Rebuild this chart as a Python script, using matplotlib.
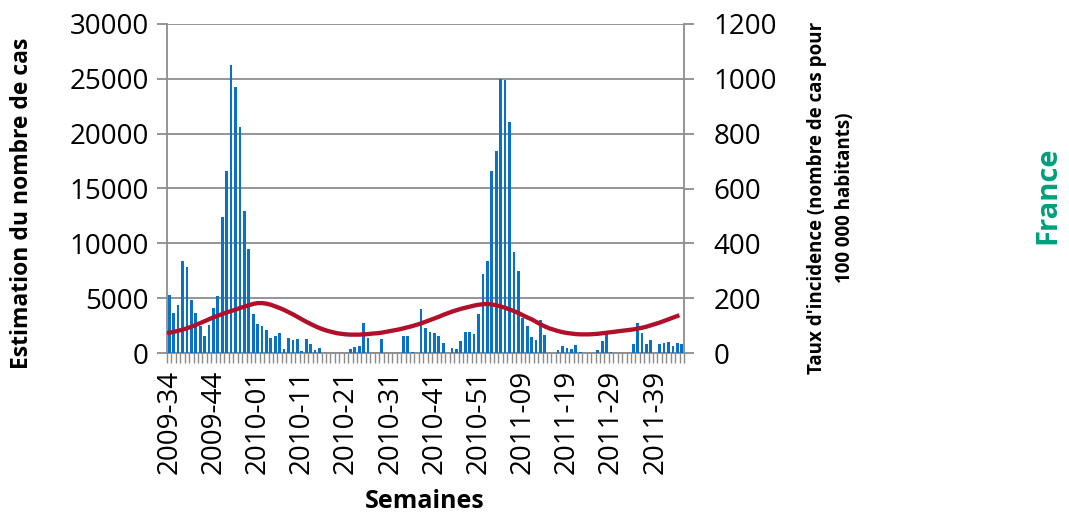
import matplotlib.pyplot as plt
import numpy as np

plt.rcParams['font.family'] = ['Open Sans', 'DejaVu Sans']

# weekly categories: 2009-34 .. 2011-45
week_spans = [(2009, 34, 53), (2010, 1, 52), (2011, 1, 45)]
semaines = [f"{y}-{w:02d}" for y, a, b in week_spans for w in range(a, b + 1)]

# estimated number of cases (left axis)
cas = [5250, 3610, 4400, 8380, 7830, 4860, 3610, 2430, 1520, 2520,
       4100, 5160, 12360, 16580, 26290, 24260, 20640, 12960, 9470, 3520,
       2680, 2440, 2130, 1330, 1570, 1780, 400, 1330, 1180, 1250,
       140, 1250, 780, 230, 470, 0, 0, 0, 0, 0,
       0, 370, 520, 650, 2720, 1380, 0, 0, 1300, 0,
       0, 0, 0, 1520, 1520, 100, 0, 4050, 2300, 1930,
       1840, 1520, 900, 0, 450, 340, 1070, 1910, 1910, 1730,
       3580, 7220, 8430, 16580, 18460, 25000, 24860, 21040, 9170, 7440,
       3200, 2430, 1480, 1160, 2980, 1660, 0, 0, 300, 620,
       460, 400, 760, 90, 0, 0, 0, 250, 1080, 2030,
       90, 0, 0, 0, 0, 780, 2690, 1780, 780, 1180,
       0, 860, 930, 1010, 620, 870, 780]

# incidence rate per 100 000 (right axis), ends one week before the bars
incidence = [74, 77, 81, 85, 90, 96, 102, 109, 116, 123,
             130, 136, 142, 148, 153, 158, 164, 169, 174, 179,
             182, 182, 180, 176, 170, 164, 157, 149, 141, 132,
             123, 114, 106, 98, 91, 85, 80, 76, 72, 70,
             68, 67, 67, 67, 68, 69, 71, 72, 74, 77,
             80, 83, 86, 90, 94, 98, 103, 108, 114, 120,
             126, 132, 139, 145, 151, 156, 161, 165, 169, 173,
             176, 178, 179, 177, 174, 170, 165, 159, 153, 146,
             138, 130, 123, 114, 105, 97, 90, 85, 80, 76,
             73, 71, 69, 68, 68, 68, 69, 70, 72, 74,
             76, 78, 80, 82, 84, 86, 89, 92, 96, 101,
             106, 111, 117, 123, 129, 135]

grey = '#8c8c8c'
x = np.arange(len(semaines))

fig = plt.figure(figsize=(10.69, 5.15), dpi=100)
ax = fig.add_axes([167 / 1069, 1 - 353 / 515, 517 / 1069, 329 / 515])

ax.bar(x, cas, width=0.62, color='#0a72c6', zorder=3)
ax.set_xlim(-0.5, len(semaines) - 0.5)
ax.set_ylim(0, 30000)
ax.set_yticks(range(0, 30001, 5000))
ax.grid(axis='y', color=grey, linewidth=1.3, zorder=0)

# labels every 10 weeks, tick marks between every week
ax.set_xticks(x[::10])
ax.set_xticklabels(semaines[::10], rotation=90)
ax.set_xticks(np.arange(-0.5, len(semaines)), minor=True)
ax.tick_params(axis='x', which='major', length=0, pad=12, labelsize=20)
ax.tick_params(axis='x', which='minor', length=7, width=1, color=grey)
ax.tick_params(axis='y', length=7, width=1.3, color=grey, labelsize=20, pad=6)

for side in ['top', 'right']:
    ax.spines[side].set_visible(False)
for side in ['left', 'bottom']:
    ax.spines[side].set_color(grey)
    ax.spines[side].set_linewidth(1.3)

ax2 = ax.twinx()
ax2.plot(x[:len(incidence)], incidence, color='#b0102a', linewidth=3.1, zorder=4)
ax2.set_ylim(0, 1200)
ax2.set_yticks(range(0, 1201, 200))
ax2.tick_params(axis='y', length=7, width=1.3, color=grey, labelsize=20, pad=14)
for side in ['top', 'left', 'bottom']:
    ax2.spines[side].set_visible(False)
ax2.spines['right'].set_color(grey)
ax2.spines['right'].set_linewidth(1.3)

fig.text(22 / 1069, 1 - 203 / 515, 'Estimation du nombre de cas', rotation=90,
         ha='center', va='center', fontsize=16.5, fontweight='bold')
fig.text(831 / 1069, 1 - 198 / 515,
         "Taux d'incidence (nombre de cas pour\n100 000 habitants)", rotation=90,
         ha='center', va='center', fontsize=13.5, fontweight='bold', linespacing=1.5)
fig.text(425 / 1069, 1 - 502 / 515, 'Semaines', ha='center', va='center',
         fontsize=18, fontweight='bold')
fig.text(1048 / 1069, 1 - 195 / 515, 'France', rotation=90, ha='center', va='center',
         fontsize=21, fontweight='bold', color='#00a07c')

fig.savefig('out.png', dpi=100)
